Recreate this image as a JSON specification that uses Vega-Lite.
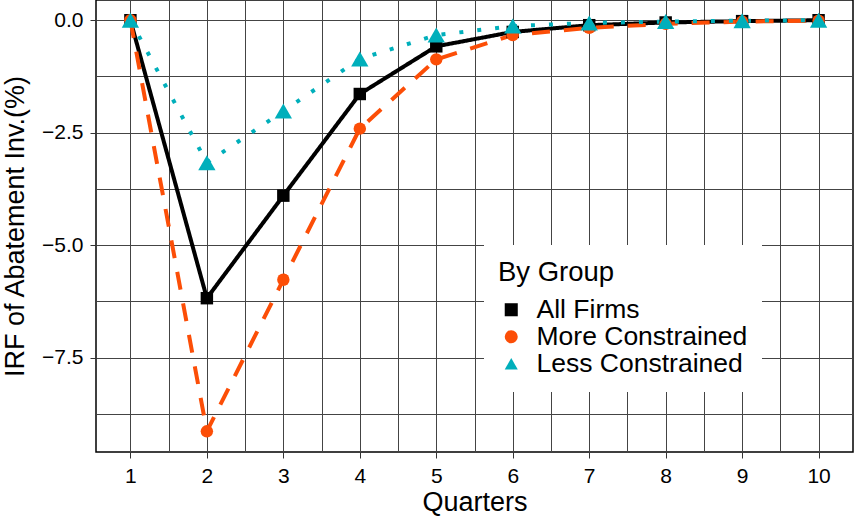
{
  "$schema": "https://vega.github.io/schema/vega-lite/v6.json",
  "width": 757,
  "height": 452,
  "autosize": "none",
  "padding": {"left": 96, "top": 0, "right": 2, "bottom": 64},
  "background": "white",
  "config": {
    "font": "Liberation Sans",
    "view": {"stroke": "black", "strokeWidth": 1.5},
    "axis": {
      "domain": false,
      "grid": true,
      "gridColor": "#444444",
      "gridWidth": 1,
      "tickColor": "#333333",
      "tickSize": 6,
      "labelFontSize": 21,
      "labelColor": "black",
      "titleFontSize": 27,
      "titleFontWeight": "normal",
      "titleColor": "black",
      "labelPadding": 6
    },
    "legend": {
      "orient": "none",
      "legendX": 388,
      "legendY": 245,
      "padding": 14,
      "fillColor": "white",
      "titleFontSize": 27.5,
      "titleFontWeight": "normal",
      "titleColor": "black",
      "titlePadding": 10,
      "labelFontSize": 26.5,
      "labelColor": "black",
      "labelLimit": 400,
      "rowPadding": 0,
      "symbolSize": 170,
      "labelOffset": 12
    }
  },
  "data": {
    "values": [
      {"quarter": 1, "irf": 0, "group": "All Firms"},
      {"quarter": 2, "irf": -6.18, "group": "All Firms"},
      {"quarter": 3, "irf": -3.9, "group": "All Firms"},
      {"quarter": 4, "irf": -1.64, "group": "All Firms"},
      {"quarter": 5, "irf": -0.58, "group": "All Firms"},
      {"quarter": 6, "irf": -0.26, "group": "All Firms"},
      {"quarter": 7, "irf": -0.11, "group": "All Firms"},
      {"quarter": 8, "irf": -0.05, "group": "All Firms"},
      {"quarter": 9, "irf": -0.02, "group": "All Firms"},
      {"quarter": 10, "irf": 0, "group": "All Firms"},
      {"quarter": 1, "irf": 0, "group": "More Constrained"},
      {"quarter": 2, "irf": -9.14, "group": "More Constrained"},
      {"quarter": 3, "irf": -5.77, "group": "More Constrained"},
      {"quarter": 4, "irf": -2.41, "group": "More Constrained"},
      {"quarter": 5, "irf": -0.87, "group": "More Constrained"},
      {"quarter": 6, "irf": -0.33, "group": "More Constrained"},
      {"quarter": 7, "irf": -0.17, "group": "More Constrained"},
      {"quarter": 8, "irf": -0.08, "group": "More Constrained"},
      {"quarter": 9, "irf": -0.03, "group": "More Constrained"},
      {"quarter": 10, "irf": -0.01, "group": "More Constrained"},
      {"quarter": 1, "irf": 0, "group": "Less Constrained"},
      {"quarter": 2, "irf": -3.17, "group": "Less Constrained"},
      {"quarter": 3, "irf": -2.02, "group": "Less Constrained"},
      {"quarter": 4, "irf": -0.86, "group": "Less Constrained"},
      {"quarter": 5, "irf": -0.33, "group": "Less Constrained"},
      {"quarter": 6, "irf": -0.13, "group": "Less Constrained"},
      {"quarter": 7, "irf": -0.06, "group": "Less Constrained"},
      {"quarter": 8, "irf": -0.03, "group": "Less Constrained"},
      {"quarter": 9, "irf": -0.01, "group": "Less Constrained"},
      {"quarter": 10, "irf": 0, "group": "Less Constrained"}
    ]
  },
  "encoding": {
    "x": {
      "field": "quarter",
      "type": "quantitative",
      "scale": {"domain": [0.55, 10.45], "nice": false, "zero": false},
      "axis": {
        "title": "Quarters",
        "values": [1, 1.5, 2, 2.5, 3, 3.5, 4, 4.5, 5, 5.5, 6, 6.5, 7, 7.5, 8, 8.5, 9, 9.5, 10],
        "labelExpr": "datum.value % 1 == 0 ? format(datum.value, 'd') : ''",
        "tickOpacity": {"condition": {"test": "datum.value % 1 != 0", "value": 0}, "value": 1},
        "labelPadding": 7,
        "titlePadding": 3
      }
    },
    "y": {
      "field": "irf",
      "type": "quantitative",
      "scale": {"domain": [-9.6, 0.45], "nice": false, "zero": false},
      "axis": {
        "title": "IRF of Abatement Inv.(%)",
        "values": [0, -1.25, -2.5, -3.75, -5, -6.25, -7.5, -8.75],
        "labelExpr": "datum.value % 2.5 == 0 ? format(datum.value, '.1f') : ''",
        "tickOpacity": {"condition": {"test": "datum.value % 2.5 != 0", "value": 0}, "value": 1},
        "labelPadding": 7,
        "titlePadding": 12
      }
    }
  },
  "layer": [
    {
      "mark": {"type": "line", "strokeWidth": 4, "strokeCap": "butt"},
      "encoding": {
        "stroke": {
          "field": "group",
          "type": "nominal",
          "scale": {"domain": ["All Firms", "More Constrained", "Less Constrained"], "range": ["#000000", "#FC4E07", "#00AFBB"]},
          "legend": null
        },
        "strokeDash": {
          "field": "group",
          "type": "nominal",
          "scale": {"domain": ["All Firms", "More Constrained", "Less Constrained"], "range": [[1, 0], [18, 14], [4, 14]]},
          "legend": null
        }
      }
    },
    {
      "mark": {"type": "point", "filled": true, "opacity": 1},
      "encoding": {
        "color": {
          "field": "group",
          "type": "nominal",
          "title": "By Group",
          "scale": {"domain": ["All Firms", "More Constrained", "Less Constrained"], "range": ["#000000", "#FC4E07", "#00AFBB"]}
        },
        "shape": {
          "field": "group",
          "type": "nominal",
          "title": "By Group",
          "scale": {"domain": ["All Firms", "More Constrained", "Less Constrained"], "range": ["square", "circle", "triangle-up"]}
        },
        "size": {
          "condition": {"test": "datum.group == 'Less Constrained'", "value": 300},
          "value": 155
        }
      }
    }
  ],
  "resolve": {"legend": {"stroke": "independent", "strokeDash": "independent"}}
}
